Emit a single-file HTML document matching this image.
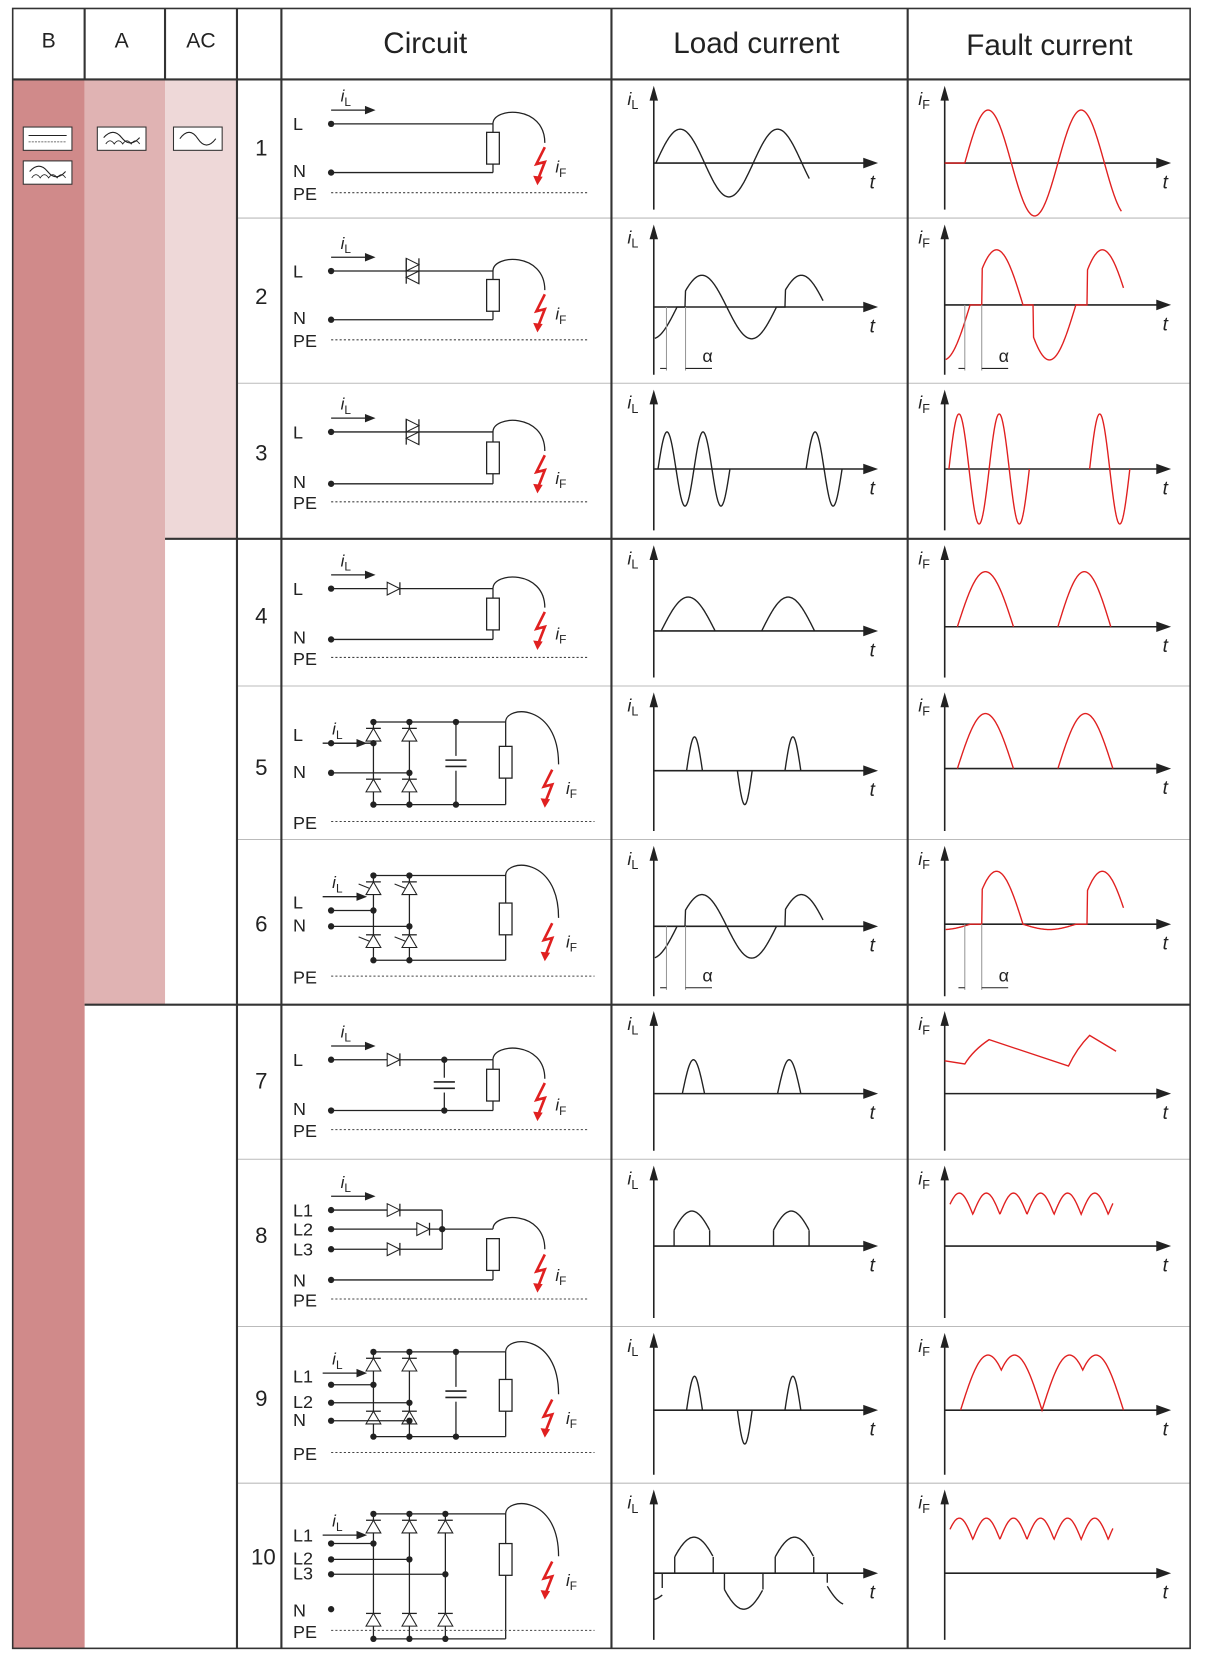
<!DOCTYPE html>
<html><head><meta charset="utf-8"><style>
html,body{margin:0;padding:0;background:#fff;}
svg{display:block;}
text{font-family:"Liberation Sans",sans-serif;fill:#222;}
</style></head><body>
<svg id="s" xmlns="http://www.w3.org/2000/svg" width="1206" height="1660" viewBox="0 0 1140 1568" preserveAspectRatio="none"></svg>
<script>
var o='';
function L(x1,y1,x2,y2,w,c,d){o+='<line x1="'+x1+'" y1="'+y1+'" x2="'+x2+'" y2="'+y2+'" stroke="'+(c||'#222')+'" stroke-width="'+(w||1)+'"'+(d?' stroke-dasharray="'+d+'"':'')+'/>';}
function R(x,y,w,h,f,s,sw){o+='<rect x="'+x+'" y="'+y+'" width="'+w+'" height="'+h+'" fill="'+(f||'none')+'"'+(s?' stroke="'+s+'" stroke-width="'+(sw||1)+'"':'')+'/>';}
function T(x,y,s,sz,a,st){o+='<text x="'+x+'" y="'+y+'" font-size="'+sz+'" text-anchor="'+(a||'start')+'" '+(st||'')+'>'+s+'</text>';}
function C(x,y,r){o+='<circle cx="'+x+'" cy="'+y+'" r="'+(r||3)+'" fill="#222"/>';}
function P(d,c,w){o+='<path d="'+d+'" fill="none" stroke="'+(c||'#222')+'" stroke-width="'+(w||1.2)+'"/>';}
function F(x0,x1,fy,c){var d='';for(var x=x0;x<=x1+0.01;x+=0.5){d+=(d?'L':'M')+x.toFixed(1)+','+fy(x).toFixed(1);}P(d,c,1.3);}
function sub(x,y,l,sz){o+='<text x="'+x+'" y="'+y+'" font-size="'+(sz||17)+'"><tspan font-style="italic">i</tspan><tspan font-size="'+((sz||17)*0.7)+'" dy="4">'+l+'</tspan></text>';}
var S=Math.sin,PI=Math.PI;
R(12,75,68,1482,'#d08a8a');R(80,75,76,874,'#e0b3b3');R(156,75,68,434,'#eed8d8');
function icon(x,y,t){R(x,y,46,22,'#fff','#333',1);
 if(t=='dc'){L(x+5,y+8,x+41,y+8,1);L(x+5,y+14,x+41,y+14,0.8,'#444','2 1');}
 else if(t=='ac'){P('M'+(x+6)+','+(y+11)+' q9,-12 17,0 t17,0','#222',1);}
 else{P('M'+(x+6)+','+(y+10)+' q9,-10 17,0 t17,0','#222',1);P('M'+(x+8)+','+(y+16)+' q4,-6 8,0 q4,-6 8,0 q4,-6 8,0 q4,-6 8,0','#222',0.8);}}
icon(22,120,'dc');icon(22,152,'pu');icon(92,120,'pu');icon(164,120,'ac');
var rows=[75,206,362,509,648,793,949,1095,1253,1401,1557];
for(var i=1;i<rows.length-1;i++){var th=(rows[i]==509||rows[i]==949);L(th?(rows[i]==509?156:80):224,rows[i],1125,rows[i],th?2:1,th?'#333':'#bbb');}
L(12,75,1125,75,2,'#333');
R(12,8,1113,1549,'none','#333',1.5);
[80,156,224].forEach(function(x){L(x,8,x,75,2,'#333');});
L(224,75,224,1557,2,'#333');L(266,8,266,1557,2,'#333');L(578,8,578,1557,2,'#333');L(858,8,858,1557,2,'#333');
T(46,45,'B',20,'middle');T(115,45,'A',20,'middle');T(190,45,'AC',20,'middle');
T(402,50,'Circuit',28,'middle','fill="#444"');T(715,50,'Load current',28,'middle','fill="#444"');T(992,52,'Fault current',28,'middle','fill="#444"');
var nums=[147,287,435,589,732,880,1028,1174,1328,1478];
nums.forEach(function(y,i){T(i==9?249:247,y,String(i+1),21,'middle');});
var ly=[154,290,443,596,728,875,1033,1177,1332,1486],fy=[154,288,443,592,726,873,1033,1177,1332,1486];
function axes(ax,ex,y,top,bot,lab){L(ax,top+12,ax,bot-8,1.5);o+='<path d="M'+(ax-4)+','+(top+20)+' L'+ax+','+(top+6)+' L'+(ax+4)+','+(top+20)+'z" fill="#222"/>';
 L(ax,y,ex-6,y,1.5);o+='<path d="M'+(ex-14)+','+(y-5)+' L'+ex+','+y+' L'+(ex-14)+','+(y+5)+'z" fill="#222"/>';
 sub(ax-25,top+24,lab,17);T(ex-8,y+24,'t',18,'start','font-style="italic"');}
for(var i=0;i<10;i++){axes(618,830,ly[i],rows[i],rows[i+1],'L');axes(893,1107,fy[i],rows[i],rows[i+1],'F');}
var RD='#e02020';
function hump(x0,x1,y0,a,c){F(x0,x1,function(x){return y0-a*S(PI*(x-x0)/(x1-x0));},c);}
// Load row1
F(620,765,function(x){return 154-32*S(2*PI*(x-620)/92);});
// cut waveform: evenPos => halves with even k are positive
function cut(y0,a,z,h,cutP,cutN,x0,x1,c,negAmp,evenPos){F(x0,x1,function(x){var u=(x-z)/h;var k=Math.floor(u);var f=u-k;var pos=((k%2+2)%2==0)==evenPos;var cp=pos?cutP:cutN;if(f*h<cp)return y0;var v=S(PI*f)*(pos?a:-(negAmp!=null?negAmp:a));return y0-v;},c);}
cut(290,30,593,47,8,0,619,778,'#222',null,false);cut(875,30,593,47,8,0,619,778,'#222',null,false);
function alpha(x1,x2,y,ty){L(x1,y,x1,ty+10,1,'#999');L(x2,y,x2,ty+10,1,'#999');L(x1-6,ty+8,x1,ty+8,1);L(x2,ty+8,x2+25,ty+8,1);T(x2+16,ty+2,'α',17);}
alpha(630,648,290,340);alpha(630,648,875,925);
F(622,690,function(x){return 443-35*S(2*PI*(x-622)/34);});F(762,796,function(x){return 443-35*S(2*PI*(x-762)/34);});
hump(625,676,596,32);hump(720,770,596,32);
function pulses(y0,list){list.forEach(function(p){hump(p[0],p[1],y0,p[2]);});}
pulses(728,[[649,664,32],[697,711,-32],[742,757,32]]);
pulses(1033,[[645,666,32],[735,757,32]]);
pulses(1332,[[649,664,32],[697,711,-32],[742,757,32]]);
function clip(y0,x0,x1,a,c){var d=x1-x0;var xa=x0+d*0.15,xb=x1-d*0.15;var ya=y0-a*S(PI*0.15);L(xa,y0,xa,ya,1.3,c);L(xb,y0,xb,ya,1.3,c);F(xa,xb,function(x){return y0-a*S(PI*(x-x0)/d);},c);}
clip(1177,630,678,33);clip(1177,724,772,33);
clip(1486,630,682,34);clip(1486,677,729,-34);clip(1486,725,777,34);
L(782,1486,782,1495,1.3);F(782,797,function(x){return 1486+30*S(PI*(x-775)/52);});F(618,626,function(x){return 1486+25*S(PI*(x-590)/52);});L(626,1486,626,1500,1.3);
// Fault
L(893,154,912,154,1.3,RD);
F(912,1060,function(x){return 154-50*S(2*PI*(x-912)/88);},RD);
cut(288,52,867,50,11,10,894,1062,RD,null,false);
cut(873,50,867,50,11,0,894,1062,RD,5,false);
alpha(912,928,288,340);alpha(912,928,873,925);
F(897,973,function(x){return 443-52*S(2*PI*(x-897)/38);},RD);F(1030,1068,function(x){return 443-52*S(2*PI*(x-1030)/38);},RD);
hump(905,958,592,52,RD);hump(1000,1050,592,52,RD);
hump(905,958,726,52,RD);hump(1000,1052,726,52,RD);
P('M893,1002 L912,1005 Q920,992 935,982 L1010,1007 Q1018,990 1030,978 L1055,993',RD,1.3);
F(898,1052,function(x){return 1147-20*Math.abs(S(PI*(x-894)/25.6));},RD);
F(898,1052,function(x){return 1454-20*Math.abs(S(PI*(x-894)/25.6));},RD);
F(908,1062,function(x){var t=((x-908)%77+77)%77;var v=Math.max(S(PI*t/52)*(t<=52?1:0),t>=25?S(PI*(t-25)/52):0);return 1332-52*Math.max(0,v);},RD);
// Circuits
function resist(x,y1,y2){R(x-6,y1,12,y2-y1,'#fff','#222',1.2);}
function lightning(x,y){P('M'+(x+9)+','+y+' L'+(x+1)+','+(y+16)+' L'+(x+9)+','+(y+14)+' L'+(x+2)+','+(y+32),RD,2.5);o+='<path d="M'+(x-2)+','+(y+27)+' L'+(x+2)+','+(y+36)+' L'+(x+7)+','+(y+28)+'z" fill="'+RD+'"/>';}
function iarrow(x,y){sub(x+9,y-8,'L',16);L(x,y,x+38,y,1.2);o+='<path d="M'+(x+32)+','+(y-4)+' L'+(x+42)+','+y+' L'+(x+32)+','+(y+4)+'z" fill="#222"/>';}
function arcLoad(x,y,lx,ly2){P('M'+x+','+y+' C'+x+','+(y-16)+' '+(lx+5)+','+(y-18)+' '+(lx+5)+','+(ly2),'#222',1.2);}
function dioH(x,y){o+='<path d="M'+(x-6)+','+(y-6)+' L'+(x+6)+','+y+' L'+(x-6)+','+(y+6)+'z" fill="#fff" stroke="#222"/>';L(x+6,y-6,x+6,y+6,1.2);}
function dioU(x,y,g){o+='<path d="M'+(x-7)+','+(y+6)+' L'+x+','+(y-6)+' L'+(x+7)+','+(y+6)+'z" fill="#fff" stroke="#222"/>';L(x-7,y-6,x+7,y-6,1.2);if(g)L(x-14,y-4,x-4,y,1);}
function triac(x,y){o+='<path d="M'+(x-6)+','+(y-12)+' L'+(x+6)+','+(y-6)+' L'+(x-6)+','+y+'z M'+(x+6)+','+y+' L'+(x-6)+','+(y+6)+' L'+(x+6)+','+(y+12)+'z" fill="#fff" stroke="#222"/>';L(x-6,y-12,x-6,y+12,1.2);L(x+6,y-12,x+6,y+12,1.2);}
function cap(x,y){L(x-10,y-3,x+10,y-3,1.5);L(x-10,y+3,x+10,y+3,1.5);}
function std(yL,yN,yPE,extra){
 T(277,yL+6,'L',17);C(313,yL);L(313,yL,466,yL,1.2);iarrow(313,yL-13);
 T(277,yN+4,'N',17);C(313,yN);L(313,yN,466,yN,1.2);T(277,yPE+7,'PE',17);L(313,yPE,555,yPE,1,'#444','2 2');
 var rm=(yL+yN)/2;resist(466,rm-15,rm+15);L(466,yL,466,rm-15,1.2);L(466,rm+15,466,yN,1.2);
 arcLoad(466,yL,510,yL+18);lightning(506,yL+22);sub(525,yN,'F',16);if(extra)extra();}
std(117,163,182);
std(256,302,321,function(){triac(390,256);});
std(408,457,474,function(){triac(390,408);});
std(556,604,621,function(){dioH(372,556);});
std(1001,1049,1067,function(){dioH(372,1001);L(420,1001,420,1049,1.2);C(420,1001);C(420,1049);R(410,1018,20,14,'#fff');cap(420,1025);});
(function(){var ys=[1143,1161,1180],lb=['L1','L2','L3'];ys.forEach(function(y,i){T(277,y+6,lb[i],17);C(313,y);});
 L(313,1143,418,1143,1.2);dioH(372,1143);L(313,1161,418,1161,1.2);dioH(400,1161);L(313,1180,418,1180,1.2);dioH(372,1180);L(418,1143,418,1180,1.2);C(418,1161);
 L(418,1161,466,1161,1.2);iarrow(313,1130);T(277,1215,'N',17);C(313,1209);L(313,1209,466,1209,1.2);T(277,1234,'PE',17);L(313,1227,555,1227,1,'#444','2 2');
 resist(466,1170,1200);L(466,1200,466,1209,1.2);arcLoad(466,1161,510,1180);lightning(506,1185);sub(525,1210,'F',16);})();
function bridge(top,bot,cols,ins,labs,yPE,capx,gate,rTop){
 var last=478;L(cols[0],top,last,top,1.2);L(cols[0],bot,last,bot,1.2);
 cols.forEach(function(x){L(x,top,x,bot,1.2);C(x,top);C(x,bot);dioU(x,top+12,gate);dioU(x,bot-18,gate);});
 ins.forEach(function(y,i){C(313,y);L(313,y,cols[Math.min(i,cols.length-1)],y,1.2);C(cols[Math.min(i,cols.length-1)],y);T(277,y+(i==0?-2:5),labs[i],17);});
 if(capx){L(capx,top,capx,bot,1.2);C(capx,top);C(capx,bot);R(capx-11,(top+bot)/2-7,22,14,'#fff');cap(capx,(top+bot)/2);}
 L(last,top,last,bot,1.2);R(last-6,rTop,12,30,'#fff','#222',1.2);
 iarrow(305,top+20);arcLoad(last,top,523,top+40);lightning(513,top+45);sub(535,top+68,'F',16);
 T(277,yPE+7,'PE',17);L(313,yPE,562,yPE,1,'#444','2 2');}
bridge(682,760,[353,387],[702,730],['L','N'],776,431,false,705);
bridge(827,907,[353,387],[860,875],['L','N'],922,0,true,853);
bridge(1277,1357,[353,387],[1308,1325,1342],['L1','L2','N'],1372,431,false,1303);
bridge(1430,1548,[353,387,421],[1458,1473,1487],['L1','L2','L3'],1540,0,false,1458);
T(277,1527,'N',17);C(313,1520);
document.getElementById('s').innerHTML=o;
</script>
</body></html>
